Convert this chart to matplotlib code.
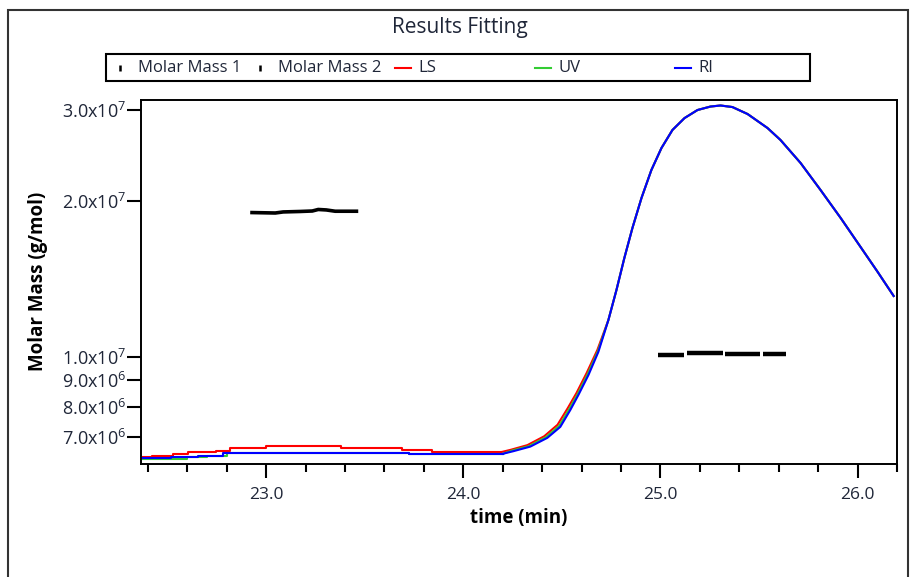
import numpy as np
import matplotlib
matplotlib.use("Agg")
import matplotlib.pyplot as plt
from matplotlib.lines import Line2D
from matplotlib.patches import Rectangle
from matplotlib.ticker import FixedLocator, FuncFormatter, MultipleLocator, NullLocator

plt.rcParams['font.family'] = ['Open Sans', 'DejaVu Sans']
plt.rcParams['mathtext.default'] = 'regular'

# ---- data ----
# LS (red) baseline, drawn as steps
LS_BASE_T = [22.376, 22.419, 22.526, 22.601, 22.743, 22.818, 23.000, 23.379, 23.691, 23.840, 24.190]
LS_BASE_M = [6.389e6, 6.435e6, 6.484e6, 6.531e6, 6.578e6, 6.648e6, 6.717e6, 6.648e6, 6.599e6, 6.531e6, 6.531e6]
# UV (green) baseline
UV_BASE_T = [22.376, 22.600, 22.700, 22.800, 23.723, 24.200]
UV_BASE_M = [6.345e6, 6.389e6, 6.435e6, 6.521e6, 6.484e6, 6.484e6]
# RI (blue) baseline
RI_BASE_T = [22.376, 22.519, 22.656, 22.781, 23.723, 24.200]
RI_BASE_M = [6.360e6, 6.389e6, 6.435e6, 6.521e6, 6.484e6, 6.484e6]

# leading edge of the peak, per detector
LS_RISE_T = [24.190, 24.240, 24.325, 24.410, 24.478, 24.530, 24.574, 24.626, 24.680, 24.736]
LS_RISE_M = [6.531e6, 6.600e6, 6.740e6, 7.010e6, 7.380e6, 7.950e6, 8.500e6, 9.300e6, 1.030e7, 1.177e7]
UV_RISE_T = [24.200, 24.248, 24.333, 24.418, 24.486, 24.537, 24.580, 24.631, 24.683, 24.736]
UV_RISE_M = [6.484e6, 6.580e6, 6.710e6, 6.980e6, 7.340e6, 7.910e6, 8.460e6, 9.250e6, 1.025e7, 1.177e7]
RI_RISE_T = [24.200, 24.254, 24.340, 24.426, 24.492, 24.543, 24.584, 24.635, 24.685, 24.736]
RI_RISE_M = [6.484e6, 6.560e6, 6.696e6, 6.961e6, 7.311e6, 7.885e6, 8.431e6, 9.215e6, 1.021e7, 1.177e7]

# rest of the peak (all three detectors overlap here)
PEAK_T = [24.736, 24.777, 24.817, 24.858, 24.904, 24.954, 25.005, 25.061, 25.122, 25.188, 25.254,
          25.305, 25.365, 25.442, 25.543, 25.609, 25.711, 25.812, 25.914, 26.015, 26.102, 26.183]
PEAK_M = [1.177e7, 1.346e7, 1.552e7, 1.774e7, 2.028e7, 2.296e7, 2.532e7, 2.745e7, 2.894e7, 3.000e7, 3.047e7,
          3.061e7, 3.040e7, 2.947e7, 2.769e7, 2.625e7, 2.369e7, 2.101e7, 1.855e7, 1.630e7, 1.458e7, 1.310e7]

# molar mass results
MM1_T = [22.919, 23.046, 23.086, 23.173, 23.234, 23.264, 23.305, 23.350, 23.467]
MM1_M = [1.900e7, 1.896e7, 1.905e7, 1.909e7, 1.913e7, 1.926e7, 1.922e7, 1.911e7, 1.911e7]
MM2_T = [24.990, 25.122, np.nan, 25.137, 25.315, np.nan, 25.330, 25.503, np.nan, 25.518, 25.635]
MM2_M = [1.007e7, 1.007e7, np.nan, 1.016e7, 1.016e7, np.nan, 1.012e7, 1.012e7, np.nan, 1.010e7, 1.010e7]

Y_TICKS = [7e6, 8e6, 9e6, 1e7, 2e7, 3e7]
X_TICKS = [23.0, 24.0, 25.0, 26.0]

LEGEND = [("Molar Mass 1", "k", "mark"), ("Molar Mass 2", "k", "mark"),
          ("LS", "#ff0000", "line"), ("UV", "#33cc33", "line"), ("RI", "#0000ff", "line")]

RED, GREEN, BLUE = "#ff0000", "#33cc33", "#0000ff"
TXT = "#1f2638"

W, H = 911, 577
fig = plt.figure(figsize=(W / 100, H / 100), dpi=100)


def fx(px):
    return px / W


def fy(py):
    return 1 - py / H


# outer frame
fig.patches.append(Rectangle((fx(8), fy(620)), fx(900), fy(10) - fy(620), transform=fig.transFigure,
                             fill=False, edgecolor="#333333", linewidth=1.5))

fig.text(fx(460), fy(27), "Results Fitting", ha="center", va="center", fontsize=15, color=TXT)

# legend box (drawn by hand so entries sit on fixed columns)
fig.patches.append(Rectangle((fx(106), fy(81)), fx(704), fy(54) - fy(81), transform=fig.transFigure,
                             fill=False, edgecolor="k", linewidth=1.5))
for i, (name, col, kind) in enumerate(LEGEND):
    tx = 138 + i * 140
    if kind == "mark":
        handle = Line2D([fx(tx - 18)], [fy(68)], marker="|", markersize=4, markeredgewidth=1.8,
                        color=col, transform=fig.transFigure)
    else:
        handle = Line2D([fx(tx - 23), fx(tx - 7)], [fy(68), fy(68)], color=col, linewidth=1.5,
                        transform=fig.transFigure)
    fig.lines.append(handle)
    fig.text(fx(tx), fy(68), name, ha="left", va="center", fontsize=12, color=TXT)

ax = fig.add_axes([fx(141), fy(463.5), fx(897) - fx(141), fy(100) - fy(463.5)])
ax.set_yscale("log")

ax.plot(LS_BASE_T, LS_BASE_M, color=RED, lw=1.5, drawstyle="steps-post")
ax.plot(LS_RISE_T + PEAK_T, LS_RISE_M + PEAK_M, color=RED, lw=1.5)
ax.plot(UV_BASE_T, UV_BASE_M, color=GREEN, lw=1.5, drawstyle="steps-post")
ax.plot(UV_RISE_T + PEAK_T, UV_RISE_M + PEAK_M, color=GREEN, lw=1.5)
ax.plot(RI_BASE_T, RI_BASE_M, color=BLUE, lw=1.5, drawstyle="steps-post")
ax.plot(RI_RISE_T + PEAK_T, RI_RISE_M + PEAK_M, color=BLUE, lw=1.5)

ax.plot(MM1_T, MM1_M, color="k", lw=2.6, solid_capstyle="butt")
ax.plot(MM2_T, MM2_M, color="k", lw=3.2, solid_capstyle="butt")

ax.set_xlim(22.365, 26.2)
ax.set_ylim(6.21e6, 3.137e7)

ax.xaxis.set_major_locator(FixedLocator(X_TICKS))
ax.xaxis.set_minor_locator(MultipleLocator(0.2))
ax.xaxis.set_major_formatter(FuncFormatter(lambda v, p: f"{v:.1f}"))
ax.yaxis.set_major_locator(FixedLocator(Y_TICKS))
ax.yaxis.set_minor_locator(NullLocator())


def sci(v, p):
    e = int(np.floor(np.log10(v) + 1e-9))
    return f"{v / 10**e:.1f}x10$^{{{e}}}$"


ax.yaxis.set_major_formatter(FuncFormatter(sci))

ax.tick_params(axis="both", which="both", direction="out", colors="k", labelcolor=TXT,
               top=False, right=False, width=1.5)
ax.tick_params(axis="x", which="major", length=10, pad=7, labelsize=12.5)
ax.tick_params(axis="x", which="minor", length=6)
ax.tick_params(axis="y", which="major", length=10, pad=1, labelsize=13)
for s in ax.spines.values():
    s.set_linewidth(1.4)

fig.text(fx(519), fy(518), "time (min)", ha="center", va="center", fontsize=13.5,
         fontweight="bold", color="k")
fig.text(fx(38), fy(281), "Molar Mass (g/mol)", ha="center", va="center", rotation=90,
         fontsize=13.5, fontweight="bold", color="k")

fig.savefig("out.png", dpi=100)
